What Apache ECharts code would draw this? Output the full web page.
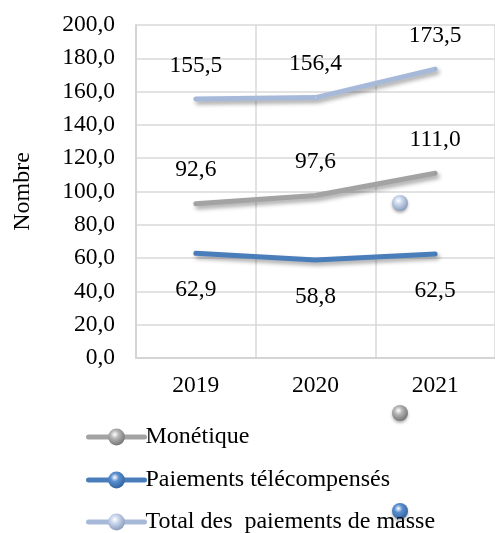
<!DOCTYPE html>
<html><head><meta charset="utf-8">
<script src="https://cdn.jsdelivr.net/npm/echarts@6/dist/echarts.min.js"></script>
<style>html,body{margin:0;padding:0;background:#fff}#c{width:495px;height:533px}</style>
</head><body><div id="c"></div>
<script>
const categories = ['2019', '2020', '2021'];
const monetique = [92.6, 97.6, 111.0];
const telecompenses = [62.9, 58.8, 62.5];
const totalMasse = [155.5, 156.4, 173.5];
const seriesNames = ['Monétique', 'Paiements télécompensés', 'Total des  paiements de masse'];
const yTicks = {min: 0, max: 200, interval: 20};

const FONT = '"Liberation Serif","Times New Roman",serif';
const FS = 23.5;
function ball(c1, c2) {
  return {type: 'radial', x: 0.4, y: 0.35, r: 0.7,
    colorStops: [{offset: 0, color: '#ffffff'}, {offset: 0.35, color: c1}, {offset: 1, color: c2}]};
}
const cols = [
  {line: '#a3a3a3', b1: '#b5b5b5', b2: '#6e6e6e'},
  {line: '#4a7ebb', b1: '#5b8fd0', b2: '#2f5f9a'},
  {line: '#a7b9d9', b1: '#c9d6ec', b2: '#8597b7'}
];
const fmt = v => v.toFixed(1).replace('.', ',');
function mk(name, data, ci, pos, dist) {
  return {
    name, type: 'line', data, symbol: 'circle', symbolSize: 1, showSymbol: true,
    itemStyle: {color: ball(cols[ci].b1, cols[ci].b2)},
    lineStyle: {color: cols[ci].line, width: 5, cap: 'round',
      shadowColor: 'rgba(0,0,0,0.35)', shadowBlur: 4, shadowOffsetX: 2, shadowOffsetY: 3},
    label: {show: true, position: pos, distance: dist, fontFamily: FONT, fontSize: FS, color: '#000',
      formatter: p => fmt(p.value)},
    emphasis: {disabled: true}, animation: false
  };
}
function lg(i, top) {
  return {orient: 'vertical', left: 86, top, padding: 0, itemGap: 0, itemWidth: 56, itemHeight: 21,
    data: [seriesNames[i]],
    lineStyle: {width: 5},
    textStyle: {fontFamily: FONT, fontSize: 24, color: '#000', padding: [0, 0, 0, -4]}};
}
const chart = echarts.init(document.getElementById('c'));
chart.setOption({
  animation: false,
  textStyle: {fontFamily: FONT},
  grid: {left: 136, right: -2, top: 25, bottom: 175, containLabel: false},
  xAxis: {type: 'category', data: categories, boundaryGap: true,
    axisLine: {show: true, lineStyle: {color: '#d4d4d4', width: 2}},
    axisTick: {show: false},
    splitLine: {show: true, lineStyle: {color: '#d9d9d9', width: 1.5}},
    axisLabel: {fontFamily: FONT, fontSize: FS, color: '#000', margin: 16}},
  yAxis: {type: 'value', min: yTicks.min, max: yTicks.max, interval: yTicks.interval,
    name: 'Nombre', nameLocation: 'middle', nameRotate: 90, nameGap: 101,
    nameTextStyle: {fontFamily: FONT, fontSize: 24, color: '#000'},
    axisLine: {show: true, lineStyle: {color: '#d4d4d4', width: 2}},
    axisTick: {show: false},
    splitLine: {show: true, lineStyle: {color: '#d9d9d9', width: 1.5}},
    axisLabel: {fontFamily: FONT, fontSize: FS, color: '#000', margin: 21, formatter: v => fmt(v)}},
  legend: [lg(0, 425), lg(1, 468), lg(2, 510)],
  series: [
    mk(seriesNames[0], monetique, 0, 'top', 21),
    mk(seriesNames[1], telecompenses, 1, 'bottom', 24),
    mk(seriesNames[2], totalMasse, 2, 'top', 21)
  ],
  graphic: [
    {type: 'circle', shape: {cx: 400, cy: 203, r: 8}, style: {fill: ball(cols[2].b1, cols[2].b2), shadowColor: 'rgba(0,0,0,0.3)', shadowBlur: 3, shadowOffsetY: 2}},
    {type: 'circle', shape: {cx: 400, cy: 413, r: 8}, style: {fill: ball(cols[0].b1, cols[0].b2), shadowColor: 'rgba(0,0,0,0.3)', shadowBlur: 3, shadowOffsetY: 2}},
    {type: 'circle', shape: {cx: 400, cy: 511, r: 8}, style: {fill: ball(cols[1].b1, cols[1].b2), shadowColor: 'rgba(0,0,0,0.3)', shadowBlur: 3, shadowOffsetY: 2}}
  ]
});
</script></body></html>
